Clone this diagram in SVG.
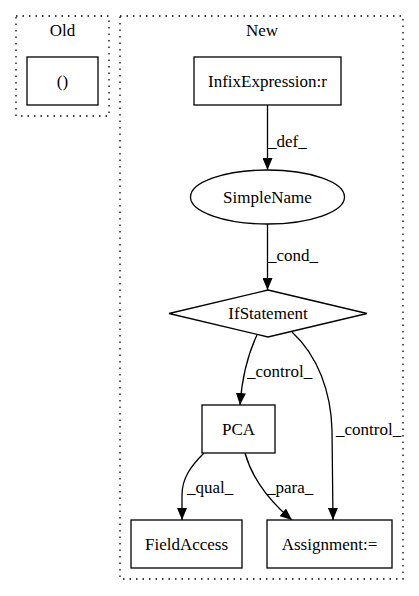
<svg xmlns="http://www.w3.org/2000/svg" width="419" height="596" viewBox="0 0 419 596">
<style>
text{font-family:"Liberation Serif","Times New Roman",serif;font-size:17px;fill:#000;}
.c{text-anchor:middle;}
.cluster{fill:none;stroke:#000;stroke-width:1.3;stroke-dasharray:1.5,5;}
.node{fill:#fff;stroke:#000;stroke-width:1.3;}
.edge{fill:none;stroke:#000;stroke-width:1.3;marker-end:url(#ah);}
</style>
<defs>
<marker id="ah" markerUnits="userSpaceOnUse" markerWidth="12" markerHeight="10" viewBox="0 0 12 10" refX="12" refY="5" orient="auto">
<path d="M0,0 L12,5 L0,10 z" fill="#000"/>
</marker>
</defs>
<rect width="419" height="596" fill="#fff"/>
<g id="cluster_old">
<rect class="cluster" x="16" y="16" width="93" height="100"/>
<text class="c" x="62.5" y="36">Old</text>
</g>
<g id="cluster_new">
<rect class="cluster" x="120" y="16" width="283" height="563"/>
<text class="c" x="262" y="36">New</text>
</g>
<g id="edges">
<path class="edge" d="M267.5,105 L267.5,170"/>
<text x="268" y="147">_def_</text>
<path class="edge" d="M267.5,224 L267.5,290"/>
<text x="268" y="261">_cond_</text>
<path class="edge" d="M257,335 C249,352 242,378 240,405"/>
<text x="247" y="377">_control_</text>
<path class="edge" d="M292,332 C318,356 331,392 332,430 L333,520"/>
<text x="336" y="435">_control_</text>
<path class="edge" d="M204,453 C191,466 182,478 182,495 L182,520"/>
<text x="187" y="493">_qual_</text>
<path class="edge" d="M245,453 C252,478 268,500 292,520"/>
<text x="267" y="493">_para_</text>
</g>
<g id="node_paren">
<rect class="node" x="27" y="57" width="71" height="48"/>
<text class="c" x="62.5" y="87">()</text>
</g>
<g id="node_infix">
<rect class="node" x="194" y="57" width="147" height="48"/>
<text class="c" x="267.5" y="87">InfixExpression:r</text>
</g>
<g id="node_simplename">
<ellipse class="node" cx="267.5" cy="197" rx="77" ry="27"/>
<text class="c" x="267.5" y="203">SimpleName</text>
</g>
<g id="node_if">
<polygon class="node" points="268,290 367,313.5 268,337 169,313.5"/>
<text class="c" x="268" y="319">IfStatement</text>
</g>
<g id="node_pca">
<rect class="node" x="202" y="405" width="73" height="48"/>
<text class="c" x="238.5" y="435">PCA</text>
</g>
<g id="node_fieldaccess">
<rect class="node" x="131" y="520" width="111" height="48"/>
<text class="c" x="186.5" y="550">FieldAccess</text>
</g>
<g id="node_assignment">
<rect class="node" x="267" y="520" width="125" height="48"/>
<text class="c" x="329.5" y="550">Assignment:=</text>
</g>
</svg>
